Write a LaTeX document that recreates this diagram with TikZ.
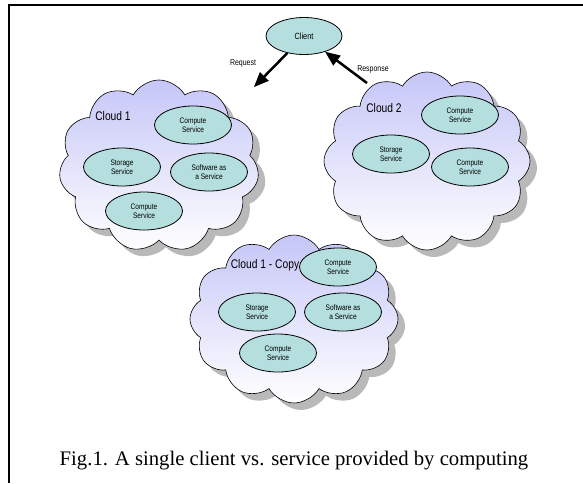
\documentclass[tikz,border=0pt]{standalone}
\usepackage{fontspec}
\setmainfont{Liberation Serif}
\newfontfamily\narrowsans[FakeStretch=0.82]{Liberation Sans}
\usetikzlibrary{arrows,%
                shapes,positioning,shadows}
\definecolor{svcfill}{RGB}{180,223,222}
\definecolor{cloudtop}{RGB}{198,198,248}
\tikzset{
  cloudbox/.style={cloud, cloud puffs=11, cloud puff arc=120, draw, line width=0.6pt,
    top color=cloudtop, bottom color=white, minimum width=200pt, minimum height=172pt,
    drop shadow={shadow xshift=7pt, shadow yshift=-7pt, fill=gray!55, opacity=1}},
  svc/.style={ellipse, draw, line width=0.8pt, fill=svcfill, minimum width=77pt,
    minimum height=38pt, inner sep=0pt, align=center,
    font=\narrowsans\fontsize{8}{9.5}\selectfont},
  cloudlabel/.style={font=\narrowsans\fontsize{12.5}{14}\selectfont},
  arrowlabel/.style={font=\narrowsans\fontsize{8.5}{10}\selectfont},
  flow/.style={line width=2.5pt, -triangle 45}
}
\begin{document}
\begin{tikzpicture}[x=1pt,y=-1pt]
\useasboundingbox (0,0) rectangle (583,483);
\draw[line width=2pt] (9,483) -- (9,5) -- (583,5);
\node[cloudbox] (cloudone) at (159,166) {};
\node[cloudbox, cloud puffs=12, minimum width=206pt, minimum height=178pt] (cloudtwo) at (427,161) {};
\node[cloudbox, cloud puffs=12, minimum width=208pt, minimum height=168pt] (cloudcopy) at (294,319) {};
\node[svc, minimum width=76pt, minimum height=37pt] (client) at (304,36) {\fontsize{9}{10}\selectfont Client};
\node[cloudlabel] (labelone) at (113,116) {Cloud 1};
\node[svc] (computeone) at (193,125) {Compute\\Service};
\node[svc] (storageone) at (122,167) {Storage\\Service};
\node[svc] (softwareone) at (209,172) {Software as\\a Service};
\node[svc] (computeonebis) at (144,211) {Compute\\Service};
\node[cloudlabel] (labeltwo) at (384,108) {Cloud 2};
\node[svc] (computetwo) at (460,115) {Compute\\Service};
\node[svc] (storagetwo) at (391,154) {Storage\\Service};
\node[svc] (computetwobis) at (470,167) {Compute\\Service};
\node[cloudlabel] (labelcopy) at (265,265) {Cloud 1 - Copy};
\node[svc] (computecopy) at (338,267) {Compute\\Service};
\node[svc] (storagecopy) at (257,312) {Storage\\Service};
\node[svc] (softwarecopy) at (343,312) {Software as\\a Service};
\node[svc] (computecopybis) at (278,353) {Compute\\Service};
\coordinate (requestend) at (254,87);
\coordinate (responsestart) at (367,83);
\draw[flow] (client) -- (requestend);
\draw[flow] (responsestart) -- (client);
\node[arrowlabel] (request) at (243,63) {Request};
\node[arrowlabel] (response) at (373,69) {Response};
\node (caption) at (294,461) {\fontsize{20.7}{24}\selectfont Fig.1. A single client vs. service provided by computing};
\end{tikzpicture}
\end{document}
